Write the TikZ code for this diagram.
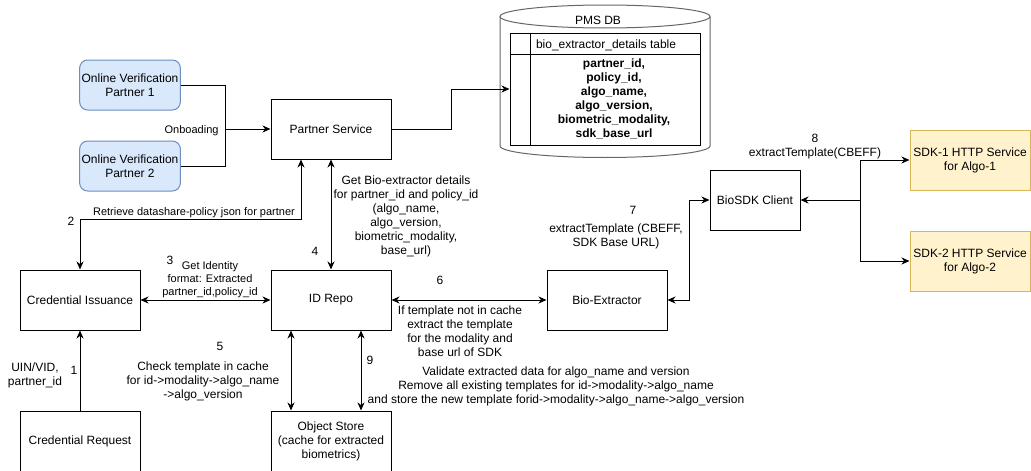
\documentclass[tikz,border=0pt]{standalone}
\usepackage{fontspec}
\setmainfont{Liberation Sans}
\usetikzlibrary{arrows.meta}
\usetikzlibrary{positioning}
\definecolor{ovpfill}{HTML}{DAE8FC}
\definecolor{ovpdraw}{HTML}{6C8EBF}
\definecolor{sdkfill}{HTML}{FFF2CC}
\definecolor{sdkdraw}{HTML}{D6B656}
\definecolor{dbdraw}{HTML}{666666}

\begin{document}
\begin{tikzpicture}[x=1pt,y=1pt,>={Stealth[length=8pt,width=7pt,inset=2.5pt]},line width=1pt,
    svc box/.style={draw,minimum width=120pt,minimum height=60pt,inner sep=2pt,
                    align=center,font=\fontsize{12}{14}\selectfont},
    partner box/.style={svc box,rounded corners=8pt,fill=ovpfill,draw=ovpdraw,
                    minimum width=100pt,minimum height=50pt},
    sdk box/.style={svc box,fill=sdkfill,draw=sdkdraw},
    note/.style={font=\fontsize{12}{14}\selectfont,align=center,inner sep=0pt},
    small note/.style={font=\fontsize{11}{13}\selectfont,align=center,inner sep=0pt},
    num/.style={font=\fontsize{12}{14}\selectfont,inner sep=0pt}]

  \useasboundingbox (0,0) rectangle (1031,-471);

  % services
  \node[svc box] (credissue) at (80,-300) {Credential Issuance};
  \node[svc box] (credreq) [below=80pt of credissue] {Credential Request};
  \node[svc box] (idrepo) [right=130pt of credissue] {ID Repo};
  \node[svc box] (objstore) [below=80pt of idrepo] {Object Store\\(cache for extracted\\biometrics)};
  \node[svc box] (partnersvc) [above=110pt of idrepo] {Partner Service};
  \node[svc box] (bioext) [right=155pt of idrepo] {Bio-Extractor};
  \node[svc box,minimum width=90pt] (biosdk) at (755,-200) {BioSDK Client};
  \node[sdk box] (sdk1) at (970,-160) {SDK-1 HTTP Service\\for Algo-1};
  \node[sdk box] (sdk2) [below=40pt of sdk1] {SDK-2 HTTP Service\\for Algo-2};
  \node[partner box] (ovp1) at (130,-85) {Online Verification\\Partner 1};
  \node[partner box] (ovp2) [below=30pt of ovp1] {Online Verification\\Partner 2};

  % PMS DB
  \draw[dbdraw] (500,-16.5) -- (500,-146)
    arc[start angle=180,end angle=360,x radius=105,y radius=11.5] -- (710,-16.5);
  \draw[dbdraw] (605,-16.5) ellipse[x radius=105,y radius=11.5];
  \node[num] (pmsdb) at (598,-20) {PMS DB};
  \node[draw,minimum width=190pt,minimum height=112pt,inner sep=0pt] (dbtable) at (605,-89) {};
  \draw ([yshift=-22pt]dbtable.north west) -- ([yshift=-22pt]dbtable.north east);
  \draw ([xshift=21pt]dbtable.north west) -- ([xshift=21pt]dbtable.south west);
  \node[note,anchor=west] (dbhead) at ([xshift=26pt,yshift=-13pt]dbtable.north west)
    {bio\_extractor\_details table};
  \node[font=\fontsize{12}{14}\selectfont\bfseries,align=center,inner sep=0pt] (dbfields)
    at (614,-99) {partner\_id,\\policy\_id,\\algo\_name,\\algo\_version,\\biometric\_modality,\\sdk\_base\_url};

  % connectors
  \coordinate[left=45pt of partnersvc] (merge);
  \draw (ovp1.east) -| (merge);
  \draw (ovp2.east) -| (merge);
  \draw[->] (merge) -- (partnersvc);
  \draw[->] (partnersvc.east) -- ++(60,0) |- (dbtable.west);
  \draw[->] (credreq) -- (credissue);
  \draw[<->] (credissue.north) -- ++(0,50) -| ([xshift=-30pt]partnersvc.south);
  \draw[<->] (credissue) -- (idrepo);
  \draw[<->] (partnersvc) -- (idrepo);
  \draw[<->] ([xshift=-40pt]idrepo.south) -- ([xshift=-40pt]objstore.north);
  \draw[<->] ([xshift=30pt]idrepo.south) -- ([xshift=30pt]objstore.north);
  \draw[<->] (idrepo) -- (bioext);
  \draw[<->] (bioext.east) -- ++(22,0) |- (biosdk.west);
  \coordinate[right=60pt of biosdk] (fork);
  \draw[->] (fork) -- (biosdk.east);
  \draw[->] (fork) |- (sdk1.west);
  \draw[->] (fork) |- (sdk2.west);

  % labels
  \node[small note,anchor=east] (onboard) at (219,-131) {Onboading};
  \node[num] (n1) at (74,-370) {1};
  \node[note] (l1) at (35,-375) {UIN/VID,\\partner\_id};
  \node[num] (n2) at (71,-221) {2};
  \node[small note] (l2) at (194,-213) {Retrieve datashare-policy json for partner};
  \node[num] (n3) at (170,-260) {3};
  \node[small note] (l3) at (210,-280) {Get Identity\\format: Extracted\\partner\_id,policy\_id};
  \node[num] (n4) at (315,-251) {4};
  \node[note] (l4) at (406,-216) {Get Bio-extractor details\\for partner\_id and policy\_id\\(algo\_name,\\algo\_version,\\biometric\_modality,\\base\_url)};
  \node[num] (n5) at (220,-346) {5};
  \node[note] (l5) at (203,-381) {Check template in cache\\for id->modality->algo\_name\\->algo\_version};
  \node[num] (n6) at (440,-280) {6};
  \node[note] (l6) at (460,-331) {If template not in cache\\extract the template\\for the modality and\\base url of SDK};
  \node[num] (n7) at (633,-210) {7};
  \node[note] (l7) at (616,-236) {extractTemplate (CBEFF,\\SDK Base URL)};
  \node[num] (n8) at (815,-138) {8};
  \node[note] (l8) at (815,-153) {extractTemplate(CBEFF)};
  \node[num] (n9) at (370,-360) {9};
  \node[note] (l9) at (556,-386) {Validate extracted data for algo\_name and version\\Remove all existing templates for id->modality->algo\_name\\and store the new template forid->modality->algo\_name->algo\_version};
\end{tikzpicture}
\end{document}
